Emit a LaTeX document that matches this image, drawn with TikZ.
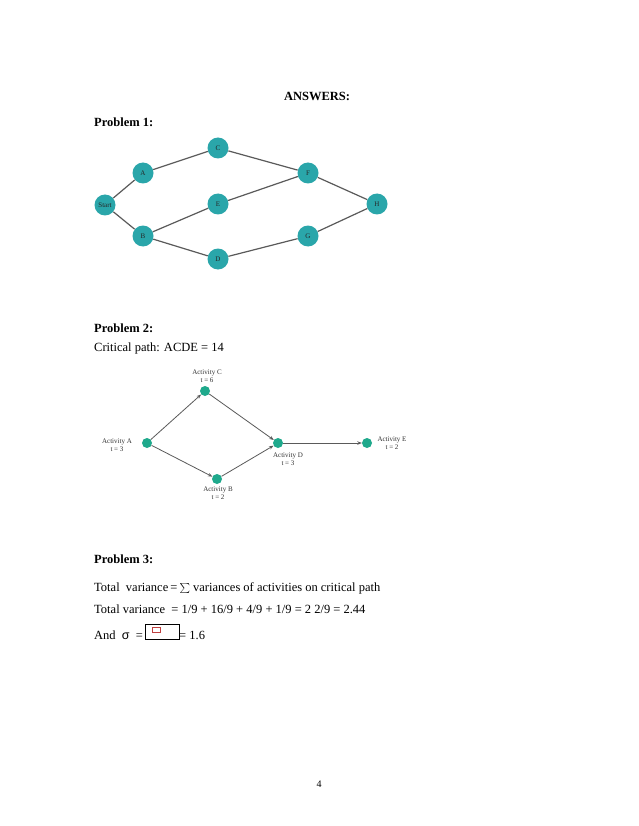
\documentclass[tikz,border=0pt]{standalone}
\usepackage{fontspec}
\setmainfont{Liberation Serif}
\newfontfamily\greekfont{Liberation Sans}
\usetikzlibrary{arrows.meta}

\definecolor{netteal}{HTML}{2AA6AA}
\definecolor{actgreen}{HTML}{1FA98C}
\definecolor{edgegray}{HTML}{5A5A5A}

\tikzset{
  pagetext/.style={anchor=base west, inner sep=0pt, font=\fontsize{12.5}{14}\selectfont},
  headtext/.style={pagetext, font=\fontsize{12.5}{14}\selectfont\bfseries},
  netnode/.style={circle, fill=netteal, minimum size=21pt, inner sep=0pt, font=\fontsize{7}{8}\selectfont, text=black!85},
  netedge/.style={draw=edgegray, line width=1.2pt},
  actdot/.style={circle, fill=actgreen, minimum size=10pt, inner sep=0pt},
  actlabel/.style={align=center, inner sep=0pt, font=\fontsize{7}{7.5}\selectfont, text=black!80},
  actarrow/.style={draw=edgegray, line width=0.8pt, -{Stealth[length=4.5pt, width=3.5pt]}}
}

\begin{document}
\begin{tikzpicture}[x=1pt, y=-1pt]
    \useasboundingbox[fill=white] (0,0) rectangle (638,826);

    % headings
    \node[headtext, anchor=base] (title) at (317, 101) {ANSWERS:};
    \node[headtext] (prob1) at (94, 127) {Problem 1:};

    % problem 1 network
    \node[netnode] (start) at (105, 205) {Start};
    \node[netnode] (a) at (143, 173) {A};
    \node[netnode] (b) at (143, 236) {B};
    \node[netnode] (c) at (218, 148) {C};
    \node[netnode] (e) at (218, 204) {E};
    \node[netnode] (d) at (218, 259) {D};
    \node[netnode] (f) at (308, 173) {F};
    \node[netnode] (g) at (308, 236) {G};
    \node[netnode] (h) at (377, 204) {H};

    \foreach \from/\to in {start/a, start/b, a/c, c/f, b/e, e/f, b/d, d/g, f/h, g/h}
        \draw[netedge] (\from) -- (\to);

    % problem 2
    \node[headtext] (prob2) at (94, 332) {Problem 2:};
    \node[pagetext] (critpath) at (94, 351) {Critical path: ACDE = 14};

    \node[actdot] (actA) at (147, 443) {};
    \node[actdot] (actC) at (205, 391) {};
    \node[actdot] (actB) at (217, 479) {};
    \node[actdot] (actD) at (278, 443) {};
    \node[actdot] (actE) at (367, 443) {};

    \node[actlabel] (labA) at (117, 445) {Activity A\\t = 3};
    \node[actlabel] (labC) at (207, 376) {Activity C\\t = 6};
    \node[actlabel] (labB) at (218, 493) {Activity B\\t = 2};
    \node[actlabel] (labD) at (288, 459) {Activity D\\t = 3};
    \node[actlabel] (labE) at (392, 443) {Activity E\\t = 2};

    \draw[actarrow] (actA) -- (actC);
    \draw[actarrow] (actC) -- (actD);
    \draw[actarrow] (actA) -- (actB);
    \draw[actarrow] (actB) -- (actD);
    \draw[actarrow] (actD) -- (actE);

    % problem 3
    \node[headtext] (prob3) at (94, 563) {Problem 3:};
    \node[pagetext] (line1) at (94, 591) {Total \ variance\,=\,$\sum$ variances of activities on critical path};
    \node[pagetext] (line2) at (94, 613) {Total variance \ = 1/9 + 16/9 + 4/9 + 1/9 = 2 2/9 = 2.44};
    \node[pagetext] (line3a) at (94, 639) {And \ {\greekfont σ} \ =};
    \node[draw=black, line width=0.7pt, minimum width=34pt, minimum height=15pt, inner sep=0pt, anchor=west] (sqrtbox) at (145, 631.5) {};
    \node[draw=red!50!gray, line width=0.5pt, minimum width=8pt, minimum height=5pt, inner sep=0pt] (brokenimg) at (156, 629.5) {};
    \node[pagetext] (line3b) at (179, 639) {= 1.6};

    % page number
    \node[pagetext, anchor=base, font=\fontsize{10}{12}\selectfont] (pagenum) at (319, 787) {4};
\end{tikzpicture}
\end{document}
